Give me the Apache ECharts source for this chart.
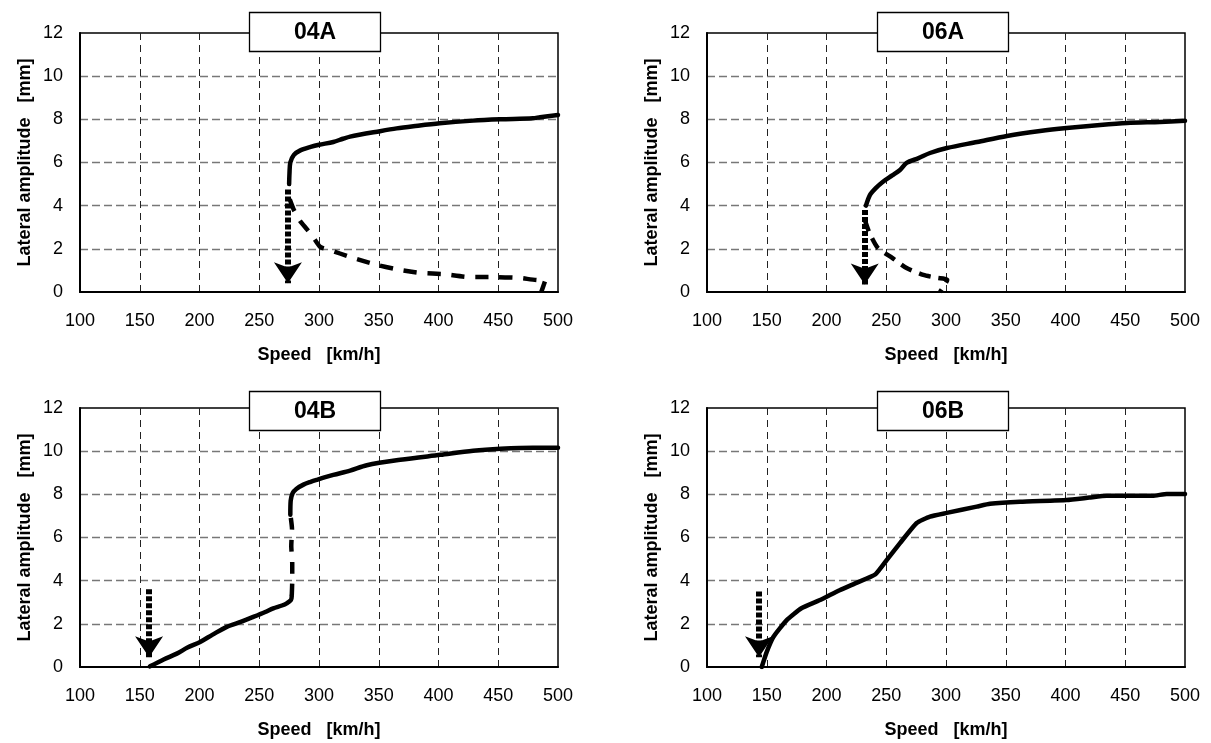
<!DOCTYPE html>
<html>
<head>
<meta charset="utf-8">
<script src="https://cdn.jsdelivr.net/npm/echarts@6/dist/echarts.min.js"></script>
<style>
html,body{margin:0;padding:0;background:#fff;}
#chart{width:1211px;height:743px;}
</style>
</head>
<body>
<div id="chart"></div>
<script>
// ---- tick labels / axis settings ----
const xTicks = [100, 150, 200, 250, 300, 350, 400, 450, 500];
const yTicks = [0, 2, 4, 6, 8, 10, 12];
const panelTitles = ['04A', '06A', '04B', '06B'];
const xAxisName = 'Speed   [km/h]';
const yAxisName = 'Lateral amplitude   [mm]';

// ---- 04A ----
const upper04A = [[275,5.0],[275.3,5.5],[276,6.0],[279,6.35],[284,6.55],[293,6.72],[300,6.82],[312,6.95],[320,7.1],[326,7.2],[351,7.45],[365,7.58],[379,7.68],[401,7.82],[429,7.94],[452,8.0],[479,8.05],[485,8.1],[500,8.2]];
const lower04A = [[275.5,4.3],[279,3.8],[284,3.3],[290,2.9],[295,2.55],[301,2.09],[309,1.95],[326,1.62],[349,1.25],[368,1.02],[386,0.88],[404,0.83],[427,0.69],[449,0.69],[468,0.65],[484,0.55],[489.5,0.56],[486,0.0]];
const arrow04A = [[274,4.75],[274,0.4]];

// ---- 06A ----
const upper06A = [[233,4.0],[236.4,4.5],[241,4.8],[247,5.1],[255,5.4],[261.5,5.65],[267,5.98],[277,6.2],[286.6,6.44],[300.8,6.67],[326,6.95],[351,7.23],[378.7,7.46],[401,7.6],[429,7.74],[451.5,7.83],[479,7.88],[500,7.93]];
const lower06A = [[232,3.35],[236,2.73],[243,2.04],[255,1.58],[267,1.11],[281,0.79],[293,0.65],[301,0.56],[295,0.0]];
const arrow06A = [[232,3.8],[232,0.35]];

// ---- 04B ----
const lower04B = [[158.6,0.03],[170,0.35],[181,0.62],[190,0.9],[200.5,1.16],[211,1.5],[222.8,1.86],[235,2.1],[245,2.32],[255,2.55],[261.7,2.72],[269,2.85],[273,2.95],[276.5,3.1],[277.2,3.3]];
const middle04B = [[277.2,3.3],[277.6,4.0],[277.6,4.8],[276.8,5.6],[277.4,6.4],[276.2,7.0]];
const upper04B = [[276,7.05],[276.3,7.7],[278,8.06],[281,8.25],[287,8.45],[293,8.58],[298,8.67],[312,8.9],[326,9.1],[340,9.35],[368,9.6],[401.5,9.83],[429,10.02],[452,10.11],[479,10.16],[500,10.16]];
const arrow04B = [[157.8,3.6],[157.8,0.45]];

// ---- 06B ----
const curve06B = [[145.8,0.0],[150,0.7],[155.5,1.39],[166.7,2.17],[179,2.72],[194.6,3.1],[211,3.56],[225,3.9],[241,4.3],[251,5.0],[261.5,5.74],[275.5,6.67],[286.6,6.97],[300.6,7.14],[325.7,7.43],[336.8,7.56],[362,7.66],[401,7.74],[420,7.85],[434.5,7.93],[473,7.93],[484.7,8.02],[500,8.02]];
const arrow06B = [[143.5,3.5],[143.5,0.45]];

const FONT = 'Liberation Sans, Arial, sans-serif';
const grids = [
  {left: 80, top: 33, width: 478, height: 259},
  {left: 707, top: 33, width: 478, height: 259},
  {left: 80, top: 408, width: 478, height: 259},
  {left: 707, top: 408, width: 478, height: 259}
];
const titleTops = [12, 12, 391, 391];
const titleLefts = [249, 877, 249, 877];

function xAxisFor(i) {
  return {
    type: 'value', gridIndex: i, min: 100, max: 500, interval: 50,
    name: xAxisName, nameLocation: 'middle', nameGap: 54,
    nameTextStyle: {fontFamily: FONT, fontWeight: 'bold', fontSize: 18, color: '#000'},
    axisLine: {show: true, onZero: false, lineStyle: {color: '#000', width: 2}},
    axisTick: {show: false},
    axisLabel: {fontFamily: FONT, fontSize: 18, color: '#000', margin: 20,
      formatter: function (v) { return xTicks.indexOf(v) >= 0 ? String(v) : ''; }},
    splitLine: {show: true, showMinLine: false, showMaxLine: false,
      lineStyle: {color: '#222', width: 1, type: [7, 5]}}
  };
}
function yAxisFor(i) {
  return {
    type: 'value', gridIndex: i, min: 0, max: 12, interval: 2,
    name: yAxisName, nameLocation: 'middle', nameGap: 46,
    nameTextStyle: {fontFamily: FONT, fontWeight: 'bold', fontSize: 18, color: '#000'},
    axisLine: {show: true, onZero: false, lineStyle: {color: '#000', width: 2}},
    axisTick: {show: false},
    axisLabel: {fontFamily: FONT, fontSize: 18, color: '#000', margin: 17,
      formatter: function (v) { return yTicks.indexOf(v) >= 0 ? String(v) : ''; }},
    splitLine: {show: true, showMinLine: false, showMaxLine: false,
      lineStyle: {color: '#777', width: 1.4, type: [8, 4]}}
  };
}

function solid(i, data, sm) {
  return {type: 'line', xAxisIndex: i, yAxisIndex: i, data: data, symbol: 'none', smooth: sm === undefined ? 0.3 : sm,
    lineStyle: {color: '#000', width: 4.5, cap: 'round', join: 'round'}, silent: true, z: 3};
}
function dashed(i, data, dash) {
  return {type: 'line', xAxisIndex: i, yAxisIndex: i, data: data, symbol: 'none', smooth: 0.2,
    lineStyle: {color: '#000', width: 4.5, type: dash || [13, 11], cap: 'butt'}, silent: true, z: 3};
}
function arrow(i, pts) {
  return {type: 'line', xAxisIndex: i, yAxisIndex: i, data: [], symbol: 'none', silent: true, z: 4,
    markLine: {
      silent: true, animation: false,
      symbol: ['none', 'arrow'], symbolSize: 21,
      label: {show: false},
      lineStyle: {color: '#000', width: 6, type: [5, 2], cap: 'butt'},
      emphasis: {disabled: true},
      data: [[{coord: pts[0]}, {coord: pts[1]}]]
    }};
}

const option = {
  animation: false,
  backgroundColor: '#fff',
  title: panelTitles.map(function (t, i) {
    return {text: t, left: titleLefts[i], top: titleTops[i],
      padding: [9, 45, 8, 45], borderColor: '#000', borderWidth: 1.3, backgroundColor: '#fff',
      textStyle: {fontFamily: FONT, fontWeight: 'bold', fontSize: 23, lineHeight: 23, color: '#000'}};
  }),
  grid: grids.map(function (g) {
    return Object.assign({show: true, borderColor: '#000', borderWidth: 1.5, backgroundColor: 'transparent', containLabel: false}, g);
  }),
  xAxis: [0, 1, 2, 3].map(xAxisFor),
  yAxis: [0, 1, 2, 3].map(yAxisFor),
  series: [
    solid(0, upper04A), dashed(0, lower04A), arrow(0, arrow04A),
    solid(1, upper06A), dashed(1, lower06A, [12, 8]), arrow(1, arrow06A),
    solid(2, lower04B), dashed(2, middle04B, [12, 10]), solid(2, upper04B), arrow(2, arrow04B),
    solid(3, curve06B, 0.15), arrow(3, arrow06B)
  ]
};

const chart = echarts.init(document.getElementById('chart'), null, {renderer: 'canvas'});
chart.setOption(option);
</script>
</body>
</html>
